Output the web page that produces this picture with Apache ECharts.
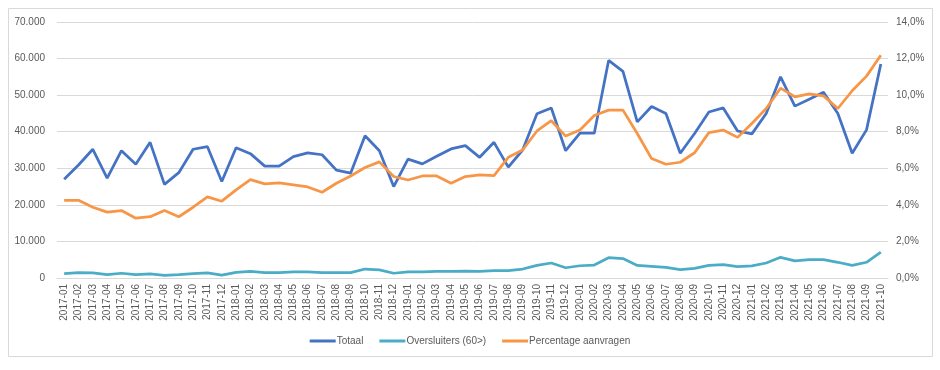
<!DOCTYPE html>
<html><head><meta charset="utf-8">
<script src="https://cdn.jsdelivr.net/npm/echarts@6/dist/echarts.min.js"></script>
<style>html,body{margin:0;padding:0;background:#fff}#c{width:940px;height:370px}</style>
</head><body><div id="c"></div>
<script>
const categories = ["2017-01","2017-02","2017-03","2017-04","2017-05","2017-06","2017-07","2017-08","2017-09","2017-10","2017-11","2017-12",
"2018-01","2018-02","2018-03","2018-04","2018-05","2018-06","2018-07","2018-08","2018-09","2018-10","2018-11","2018-12",
"2019-01","2019-02","2019-03","2019-04","2019-05","2019-06","2019-07","2019-08","2019-09","2019-10","2019-11","2019-12",
"2020-01","2020-02","2020-03","2020-04","2020-05","2020-06","2020-07","2020-08","2020-09","2020-10","2020-11","2020-12",
"2021-01","2021-02","2021-03","2021-04","2021-05","2021-06","2021-07","2021-08","2021-09","2021-10"];
const totaal = [27000,30900,35200,27300,34800,31100,37100,25600,28800,35200,35900,26400,
35600,34000,30600,30600,33200,34200,33700,29500,28700,38900,34800,25000,
32500,31200,33300,35300,36200,33000,37100,30300,35000,44900,46500,34800,
39600,39600,59500,56500,42700,46900,45000,34100,39500,45400,46500,40200,
39400,45000,55000,47000,48900,50800,45000,34100,40500,58500];
const oversluiters = [1200,1450,1400,900,1300,900,1100,750,900,1200,1400,800,
1550,1800,1500,1500,1650,1650,1500,1450,1450,2450,2200,1300,
1650,1650,1800,1800,1900,1800,2000,2000,2450,3450,4100,2800,
3350,3550,5550,5300,3450,3200,2900,2300,2650,3450,3650,3100,
3300,4100,5650,4700,5000,5000,4300,3450,4300,7100];
const percentage = [4.25,4.25,3.87,3.6,3.69,3.27,3.35,3.69,3.35,3.87,4.44,4.2,
4.82,5.38,5.15,5.2,5.09,4.98,4.69,5.18,5.58,6.04,6.35,5.55,
5.36,5.58,5.58,5.18,5.55,5.64,5.6,6.6,7.0,8.04,8.6,7.76,
8.09,8.89,9.18,9.18,7.9,6.53,6.22,6.33,6.85,7.95,8.09,7.69,
8.45,9.27,10.38,9.91,10.07,9.96,9.27,10.24,11.04,12.18];
const seriesNames = ["Totaal","Oversluiters (60>)","Percentage aanvragen"];

const font = "Liberation Sans";
const txt = "#595959";
const chart = echarts.init(document.getElementById('c'), null, {renderer:'canvas'});
chart.setOption({
  animation:false,
  textStyle:{fontFamily:font},
  graphic:[{type:'rect',shape:{x:8.5,y:8.5,width:924,height:348},style:{fill:'none',stroke:'#d9d9d9',lineWidth:1},silent:true,z:-1}],
  grid:{left:57,right:52,top:22,bottom:92},
  legend:{
    data:seriesNames, top:331, left:'center', icon:'rect', itemWidth:26, itemHeight:3, itemGap:16,
    textStyle:{color:txt,fontSize:10,fontFamily:font,padding:[0,0,0,-4]}
  },
  xAxis:{
    type:'category', data:categories, boundaryGap:true,
    axisLine:{lineStyle:{color:'#d9d9d9'}}, axisTick:{show:false},
    axisLabel:{rotate:90,interval:0,color:txt,fontSize:10,fontFamily:font,margin:6}
  },
  yAxis:[
    {type:'value',min:0,max:70000,interval:10000,
     axisLabel:{color:txt,fontSize:10,fontFamily:font,margin:12,
       formatter:v=>v===0?'0':(v/1000).toFixed(0)+'.000'},
     splitLine:{lineStyle:{color:'#d9d9d9'}},axisLine:{show:false},axisTick:{show:false}},
    {type:'value',min:0,max:14,interval:2,position:'right',
     axisLabel:{color:txt,fontSize:10,fontFamily:font,margin:8,
       formatter:v=>v.toFixed(1).replace('.',',')+'%'},
     splitLine:{show:false},axisLine:{show:false},axisTick:{show:false}}
  ],
  series:[
    {name:seriesNames[0],type:'line',data:totaal,yAxisIndex:0,symbol:'none',lineStyle:{width:2.75,color:'#4472C4'},itemStyle:{color:'#4472C4'}},
    {name:seriesNames[1],type:'line',data:oversluiters,yAxisIndex:0,symbol:'none',lineStyle:{width:2.75,color:'#4BACC6'},itemStyle:{color:'#4BACC6'}},
    {name:seriesNames[2],type:'line',data:percentage,yAxisIndex:1,symbol:'none',lineStyle:{width:2.75,color:'#F79646'},itemStyle:{color:'#F79646'}}
  ]
});
</script></body></html>
